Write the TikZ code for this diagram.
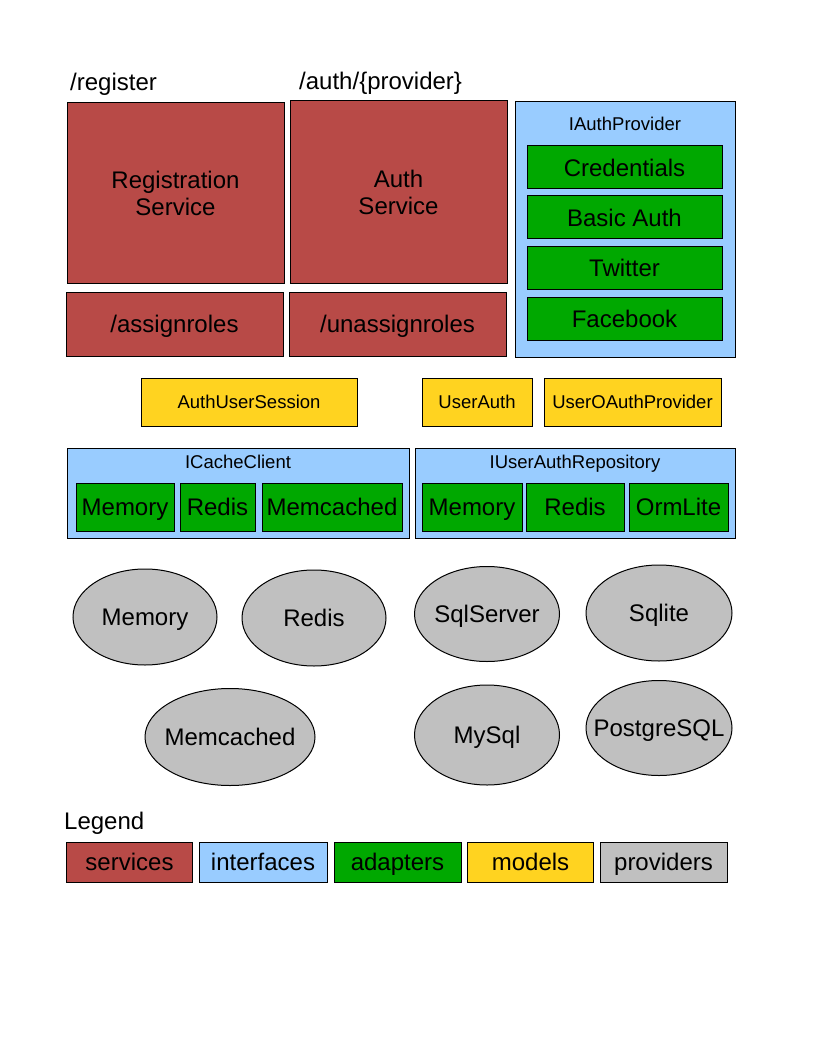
\documentclass[tikz,border=0pt]{standalone}
\usepackage{fontspec}
\setmainfont{Liberation Sans}
\usetikzlibrary{shapes.geometric}
\definecolor{svccol}{HTML}{B84A47}
\definecolor{ifacecol}{HTML}{99CCFF}
\definecolor{adaptcol}{HTML}{00A800}
\definecolor{modelcol}{HTML}{FFD320}
\definecolor{provcol}{HTML}{C0C0C0}
\newcommand{\zw}[1]{\makebox[0pt]{#1}}
\tikzset{
  base/.style={draw=black, line width=1pt, inner sep=0pt, align=center},
  bigfont/.style={font=\fontsize{24}{27}\selectfont},
  bigtext/.style={bigfont, text height=17.3pt, text depth=0pt},
  smalltext/.style={font=\fontsize{18.5}{21}\selectfont, text height=13.3pt, text depth=0pt},
  svcml/.style={base, fill=svccol, bigfont},
  svc/.style={base, fill=svccol, bigtext},
  iface/.style={base, fill=ifacecol},
  adapt/.style={base, fill=adaptcol, bigtext},
  model/.style={base, fill=modelcol, smalltext},
  prov/.style={base, fill=provcol, ellipse, bigtext},
  legbox/.style={base, bigtext, minimum height=40pt},
  lbl/.style={inner sep=0pt, anchor=west, bigfont},
  ilbl/.style={inner sep=0pt, smalltext}
}
\begin{document}
\begin{tikzpicture}[x=1pt,y=-1pt]
\useasboundingbox (0,0) rectangle (816,1056);
% route labels
\node[lbl] (lreg) at (70,84) {/register};
\node[lbl] (lauth) at (299,83) {/auth/\{provider\}};
% services
\node[svcml, minimum width=217pt, minimum height=181pt] (reg) at (175.5,193.5) {Registration\\Service};
\node[svcml, minimum width=217pt, minimum height=183pt] (auth) at (398.5,192.5) {Auth\\Service};
\node[svc, minimum width=217pt, minimum height=64pt] (assign) at (174.5,324) {/assignroles};
\node[svc, minimum width=217pt, minimum height=64pt] (unassign) at (397.5,324) {/unassignroles};
% IAuthProvider
\node[iface, minimum width=220pt, minimum height=255pt] (iauth) at (625,229.5) {};
\node[ilbl] (iauthl) at (625,124) {IAuthProvider};
\node[adapt, minimum width=195pt, minimum height=43pt] (cred) at (624.5,167.5) {Credentials};
\node[adapt, minimum width=195pt, minimum height=43pt] (basic) at (624.5,217.5) {Basic Auth};
\node[adapt, minimum width=195pt, minimum height=43pt] (twit) at (624.5,268) {Twitter};
\node[adapt, minimum width=195pt, minimum height=43pt] (fb) at (624.5,318.5) {Facebook};
% models
\node[model, minimum width=216pt, minimum height=48pt] (aus) at (249,402) {AuthUserSession};
\node[model, minimum width=110pt, minimum height=48pt] (ua) at (477,402) {UserAuth};
\node[model, minimum width=177pt, minimum height=48pt] (uoap) at (632.5,402) {UserOAuthProvider};
% ICacheClient
\node[iface, minimum width=342pt, minimum height=90pt] (icache) at (238,493) {};
\node[ilbl] (icachel) at (238,462) {ICacheClient};
\node[adapt, minimum width=98pt, minimum height=48pt] (cmem) at (125,507) {Memory};
\node[adapt, minimum width=75pt, minimum height=48pt] (credis) at (217.5,507) {Redis};
\node[adapt, minimum width=140pt, minimum height=48pt] (cmemc) at (332,507) {Memcached};
% IUserAuthRepository
\node[iface, minimum width=320pt, minimum height=90pt] (iuar) at (575,493) {};
\node[ilbl] (iuarl) at (575,462) {IUserAuthRepository};
\node[adapt, minimum width=100pt, minimum height=48pt] (rmem) at (472,507) {Memory};
\node[adapt, minimum width=98pt, minimum height=48pt] (rredis) at (575,507) {Redis};
\node[adapt, minimum width=99pt, minimum height=48pt] (rorm) at (678.5,507) {OrmLite};
% providers
\node[prov, minimum width=144pt, minimum height=96pt] (pmem) at (145,617) {\zw{Memory}};
\node[prov, minimum width=144pt, minimum height=96pt] (predis) at (314,618) {\zw{Redis}};
\node[prov, minimum width=145pt, minimum height=95pt] (psql) at (487,614) {\zw{SqlServer}};
\node[prov, minimum width=146pt, minimum height=96pt] (plite) at (659,613) {\zw{Sqlite}};
\node[prov, minimum width=170pt, minimum height=97pt] (pmemc) at (230,737) {\zw{Memcached}};
\node[prov, minimum width=145pt, minimum height=100pt] (pmy) at (487,735) {\zw{MySql}};
\node[prov, minimum width=146pt, minimum height=95pt] (ppg) at (659,728) {\zw{PostgreSQL}};
% legend
\node[lbl] (legend) at (64,823) {Legend};
\node[legbox, fill=svccol, minimum width=126pt] (lsvc) at (129.5,862) {services};
\node[legbox, fill=ifacecol, minimum width=128pt] (liface) at (263,862) {interfaces};
\node[legbox, fill=adaptcol, minimum width=127pt] (ladapt) at (397.5,862) {adapters};
\node[legbox, fill=modelcol, minimum width=126pt] (lmodel) at (530.5,862) {models};
\node[legbox, fill=provcol, minimum width=127pt] (lprov) at (663.5,862) {providers};
\end{tikzpicture}
\end{document}
